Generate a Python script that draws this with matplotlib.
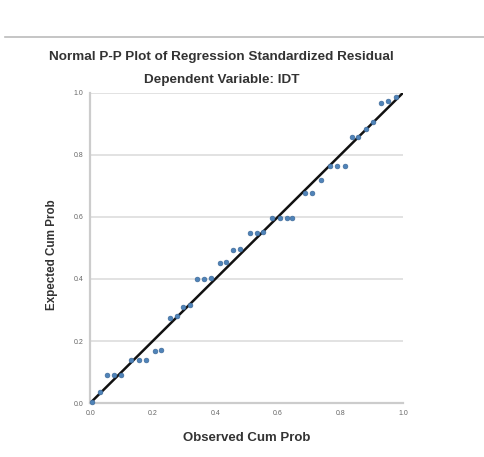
import numpy as np
from matplotlib import pyplot as plt
from matplotlib.lines import Line2D

plt.rcParams['font.family'] = ['Liberation Sans', 'DejaVu Sans']

# observed vs expected cumulative probability
observed = [0.006, 0.032, 0.054, 0.077, 0.099, 0.131, 0.157, 0.179, 0.208, 0.227,
            0.256, 0.278, 0.297, 0.318, 0.342, 0.364, 0.387, 0.415, 0.435, 0.457,
            0.479, 0.511, 0.534, 0.553, 0.581, 0.607, 0.629, 0.645, 0.687, 0.709,
            0.738, 0.767, 0.789, 0.815, 0.837, 0.856, 0.882, 0.904, 0.930, 0.952,
            0.978]
expected = [0.003, 0.035, 0.090, 0.090, 0.090, 0.139, 0.139, 0.139, 0.168, 0.171,
            0.274, 0.281, 0.310, 0.315, 0.400, 0.400, 0.403, 0.452, 0.455, 0.494,
            0.497, 0.548, 0.548, 0.552, 0.597, 0.597, 0.597, 0.597, 0.677, 0.677,
            0.719, 0.765, 0.765, 0.765, 0.858, 0.858, 0.884, 0.906, 0.968, 0.974,
            0.987]
ticks = [0.0, 0.2, 0.4, 0.6, 0.8, 1.0]
tick_labels = ['0.0', '0.2', '0.4', '0.6', '0.8', '1.0']

fig = plt.figure(figsize=(4.85, 4.57), dpi=100)
ax = fig.add_axes([0.186, 0.118, 0.645, 0.679])

ax.set_xlim(0, 1.0)
ax.set_ylim(0, 1.0)
ax.set_xticks(ticks)
ax.set_yticks(ticks)
ax.set_xticklabels(tick_labels)
ax.set_yticklabels(tick_labels)
ax.tick_params(length=0, labelsize=5, colors='#666666', pad=5)

ax.grid(axis='y', color='#dddddd', linewidth=1.2)
ax.set_axisbelow(True)
for s in ['top', 'right']:
    ax.spines[s].set_visible(False)
for s in ['left', 'bottom']:
    ax.spines[s].set_color('#cccccc')
    ax.spines[s].set_linewidth(1.6)

# reference diagonal
ax.plot([0, 1], [0, 1], color='#111111', linewidth=1.8, zorder=2)
ax.scatter(observed, expected, s=12, color='#4f83b8', edgecolors='#3a6594',
           linewidths=0.4, zorder=3, clip_on=False)

ax.set_xlabel('Observed Cum Prob', fontsize=9.5, fontweight='bold', color='#333333', labelpad=11)
ax.set_ylabel('Expected Cum Prob', fontsize=8.4, fontweight='bold', color='#333333')
ax.yaxis.set_label_coords(-0.102, 0.477)

fig.text(0.456, 0.875, 'Normal P-P Plot of Regression Standardized Residual',
         ha='center', va='center', fontsize=9.7, fontweight='bold', color='#333333')
fig.text(0.458, 0.825, 'Dependent Variable: IDT',
         ha='center', va='center', fontsize=9.7, fontweight='bold', color='#333333')

# separator line at top of the screenshot
fig.add_artist(Line2D([0.01, 1.0], [0.919, 0.919], color='#bbbbbb', linewidth=1.2))

fig.savefig('out.png', dpi=100)
